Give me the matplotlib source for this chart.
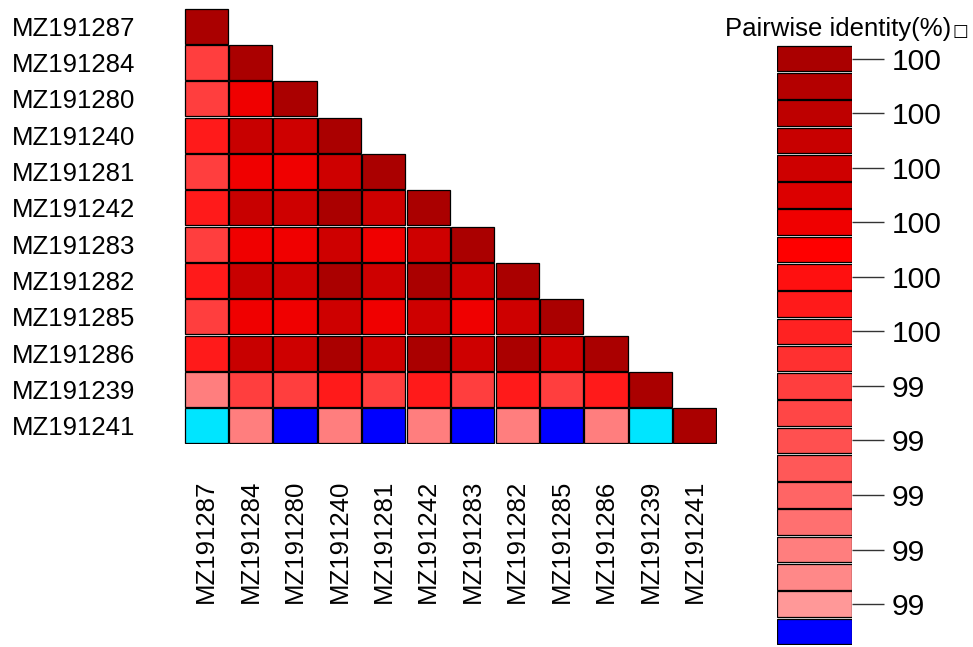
import numpy as np
import matplotlib
matplotlib.use("Agg")
import matplotlib.pyplot as plt
from matplotlib.patches import Rectangle
from matplotlib.colors import ListedColormap, BoundaryNorm

# sequence names, top-to-bottom / left-to-right
names = ["MZ191287", "MZ191284", "MZ191280", "MZ191240", "MZ191281", "MZ191242",
         "MZ191283", "MZ191282", "MZ191285", "MZ191286", "MZ191239", "MZ191241"]

# lower triangle of pairwise identity (%)
identity = [
    [100.0],
    [99.4, 100.0],
    [99.4, 99.7, 100.0],
    [99.55, 99.85, 99.8, 100.0],
    [99.4, 99.7, 99.7, 99.8, 100.0],
    [99.55, 99.85, 99.8, 100.0, 99.8, 100.0],
    [99.4, 99.7, 99.7, 99.8, 99.7, 99.8, 100.0],
    [99.55, 99.85, 99.8, 100.0, 99.8, 100.0, 99.8, 100.0],
    [99.4, 99.7, 99.7, 99.8, 99.7, 99.8, 99.7, 99.8, 100.0],
    [99.55, 99.85, 99.8, 100.0, 99.8, 100.0, 99.8, 100.0, 99.8, 100.0],
    [99.1, 99.4, 99.4, 99.55, 99.4, 99.55, 99.4, 99.55, 99.4, 99.55, 100.0],
    [98.8, 99.1, 98.95, 99.1, 98.95, 99.1, 98.95, 99.1, 98.95, 99.1, 98.8, 100.0],
]

# colour key: 21 red steps from 100 down to 99, then one blue step below
key_levels = np.round(np.linspace(100, 99, 21), 2)
key_reds = ["#AA0000", "#B40000", "#BE0000", "#C80000", "#CE0000", "#DC0000",
            "#F00000", "#FF0000", "#FF1010", "#FF1A1A", "#FF2222", "#FF3030",
            "#FF3E3E", "#FF4646", "#FF5050", "#FF5858", "#FF6565", "#FF7070",
            "#FF7E7E", "#FF8888", "#FF9898"]
low_color = "#0000FF"
under_color = "#00E5FF"

colors = [low_color] + key_reds[::-1]
bounds = np.round(np.arange(98.925, 100.03, 0.05), 3)
cmap = ListedColormap(colors)
cmap.set_under(under_color)
norm = BoundaryNorm(bounds, cmap.N)

W, H = 973, 647
fig = plt.figure(figsize=(W / 100, H / 100), dpi=100)

font = ["Liberation Sans", "DejaVu Sans"]
fs_names = 18.5
fs_nums = 21.6

# triangular matrix
ax = fig.add_axes([184 / W, 1 - 444 / H, 533 / W, 436 / H])
n = len(names)
for i, row in enumerate(identity):
    for j, v in enumerate(row):
        ax.add_patch(Rectangle((j + 0.015, i + 0.02), 0.97, 0.96,
                               facecolor=cmap(norm(v)), edgecolor="black", lw=0.9))
ax.set_xlim(0, n)
ax.set_ylim(n, 0)
for s in ax.spines.values():
    s.set_visible(False)

ax.set_yticks(np.arange(n) + 0.5)
ax.set_yticklabels(names, family=font, fontsize=fs_names, ha="left")
ax.tick_params(axis="y", length=0, pad=(184 - 12) * 0.72)

ax.set_xticks(np.arange(n) + 0.5)
ax.set_xticklabels(names, family=font, fontsize=fs_names, rotation=90, va="bottom")
ax.tick_params(axis="x", length=0, pad=(603 - 444) * 0.72)

# colour key on the right
cax = fig.add_axes([777 / W, 1 - 645 / H, 75 / W, 600 / H])
key_colors = key_reds + [low_color]
for k, c in enumerate(key_colors):
    cax.add_patch(Rectangle((0, k + 0.03), 1, 0.94, facecolor=c,
                            edgecolor="black", lw=0.9))
cax.set_xlim(0, 1)
cax.set_ylim(len(key_colors), 0)
for s in cax.spines.values():
    s.set_visible(False)
cax.set_xticks([])
tick_idx = np.arange(0, len(key_levels), 2)
cax.yaxis.tick_right()
cax.set_yticks(tick_idx + 0.5)
cax.set_yticklabels([f"{key_levels[k]:.0f}" for k in tick_idx], family=font, fontsize=fs_nums)
cax.tick_params(axis="y", length=32 * 0.72, width=1, color="#333333", pad=8 * 0.72)

fig.text(725 / W, 1 - 36 / H, "Pairwise identity(%)", family=font, fontsize=fs_names,
         va="baseline", ha="left")
fig.text(953 / W, 1 - 36 / H, "\u25a1", family=["DejaVu Sans"], fontsize=12,
         va="baseline", ha="left")

fig.savefig("out.png", dpi=100, facecolor="white")
